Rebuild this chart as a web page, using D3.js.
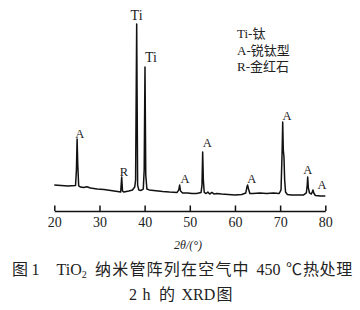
<!DOCTYPE html>
<html lang="zh">
<head>
<meta charset="UTF-8">
<title>TiO2 XRD</title>
<script src="https://d3js.org/d3.v7.min.js"></script>
<style>
  body { margin: 0; background: #fff; }
  text { font-family: "Liberation Serif", "Noto Sans CJK SC", serif; fill: #222; }
</style>
</head>
<body>
<div id="chart"></div>
<script>
// 2θ (°) and intensity (a.u.)
const xrdPoints = [
  [20.0, 83], [21.5, 81], [23.0, 78], [24.7, 81], [24.9, 167], [25.05, 339], [25.2, 194], [25.4, 78],
  [25.8, 72], [26.5, 69], [27.2, 74], [28.0, 67], [29.5, 61], [31.0, 58], [32.5, 53], [34.0, 47],
  [34.7, 44], [34.92, 128], [35.1, 50], [35.4, 44], [36.5, 50], [37.3, 56], [37.8, 72], [38.0, 111],
  [38.24, 978], [38.45, 83], [38.7, 56], [39.2, 53], [39.7, 61], [39.9, 167], [40.08, 739], [40.25, 139],
  [40.5, 61], [41.0, 56], [42.0, 53], [43.0, 50], [44.0, 47], [45.5, 44], [47.2, 42], [47.55, 56],
  [47.75, 83], [47.95, 50], [48.4, 39], [49.5, 39], [50.5, 36], [51.5, 36], [52.5, 42], [52.7, 83],
  [52.85, 267], [53.0, 111], [53.2, 42], [53.6, 36], [54.0, 44], [54.4, 33], [54.9, 42], [55.4, 33],
  [56.0, 36], [57.0, 33], [58.5, 31], [60.0, 28], [61.5, 31], [62.4, 39], [62.65, 72], [62.8, 83],
  [63.0, 61], [63.3, 36], [64.0, 36], [65.5, 39], [67.0, 36], [68.5, 39], [69.8, 36], [70.2, 56],
  [70.45, 278], [70.57, 433], [70.7, 278], [70.85, 239], [71.0, 111], [71.2, 44], [71.6, 31], [72.5, 28],
  [74.0, 28], [75.2, 28], [75.8, 39], [76.0, 83], [76.1, 128], [76.25, 67], [76.5, 39], [76.9, 33],
  [77.1, 44], [77.27, 56], [77.45, 39], [77.8, 25], [79.0, 22], [80.0, 22]
];

// peak labels: text, 2θ and intensity where the label sits
const peakLabels = [
  ["A", 25.65, 345], ["R", 35.4, 133], ["Ti", 38.22, 1000], ["Ti", 41.4, 767],
  ["A", 48.95, 92], ["A", 53.85, 292], ["A", 63.7, 92], ["A", 71.5, 447],
  ["A", 76.1, 145], ["A", 79.3, 61]
];

const xTicks = [20, 30, 40, 50, 60, 70, 80];
const legendLines = ["Ti-钛", "A-锐钛型", "R-金红石"];

const W = 360, H = 310;
const svg = d3.select("#chart").append("svg")
    .attr("width", W).attr("height", H);

const x = d3.scaleLinear().domain([20, 80]).range([54.3, 325.3]);
const y = d3.scaleLinear().domain([0, 1000]).range([200, 20]);

// spectrum
const line = d3.line().x(d => x(d[0])).y(d => y(d[1]));
svg.append("path")
    .datum(xrdPoints)
    .attr("d", line)
    .attr("fill", "none")
    .attr("stroke", "#111")
    .attr("stroke-width", 1.5)
    .attr("stroke-linejoin", "round");

// peak labels
svg.selectAll(".peak")
    .data(peakLabels)
    .enter().append("text")
    .attr("class", "peak")
    .attr("x", d => x(d[1]))
    .attr("y", d => y(d[2]))
    .attr("text-anchor", "middle")
    .style("font-size", d => d[0] === "Ti" ? "14px" : "12.5px")
    .text(d => d[0]);

// x axis, ticks pointing up
const xAxis = d3.axisBottom(x)
    .tickValues(xTicks)
    .tickSizeInner(-5.5)
    .tickSizeOuter(0)
    .tickPadding(6);

const gx = svg.append("g")
    .attr("transform", "translate(0,211)")
    .call(xAxis);
gx.select(".domain").attr("stroke", "#111").attr("stroke-width", 1.5);
gx.selectAll(".tick line").attr("stroke", "#111").attr("stroke-width", 1.5);
gx.selectAll(".tick text")
    .style("font-family", "Liberation Serif")
    .style("font-size", "14px")
    .attr("fill", "#222");

svg.append("text")
    .attr("x", 188).attr("y", 248.5)
    .attr("text-anchor", "middle")
    .style("font-size", "12px")
    .style("font-style", "italic")
    .text("2θ/(°)");

// legend
svg.selectAll(".legend")
    .data(legendLines)
    .enter().append("text")
    .attr("class", "legend")
    .attr("x", 237)
    .attr("y", (d, i) => 38 + i * 16.5)
    .style("font-size", "13px")
    .text(d => d);

// caption, placed piece by piece
const cap = svg.append("g").style("font-size", "16px");
cap.append("text").attr("x", 12).attr("y", 275).text("图");
cap.append("text").attr("x", 31.5).attr("y", 275).text("1");
const tio = cap.append("text").attr("x", 56.5).attr("y", 275);
tio.append("tspan").text("TiO");
tio.append("tspan").attr("dy", 3).style("font-size", "10px").text("2");
cap.append("text").attr("x", 95).attr("y", 275).style("letter-spacing", "1.2px").text("纳米管阵列在空气中");
cap.append("text").attr("x", 256.5).attr("y", 275).text("450");
cap.append("text").attr("x", 286).attr("y", 275).text("℃");
cap.append("text").attr("x", 303).attr("y", 275).style("letter-spacing", "0.6px").text("热处理");

cap.append("text").attr("x", 129).attr("y", 300).text("2");
cap.append("text").attr("x", 142.5).attr("y", 300).text("h");
cap.append("text").attr("x", 159).attr("y", 300).text("的");
cap.append("text").attr("x", 181.5).attr("y", 300).text("XRD");
cap.append("text").attr("x", 216.5).attr("y", 300).text("图");
</script>
</body>
</html>
